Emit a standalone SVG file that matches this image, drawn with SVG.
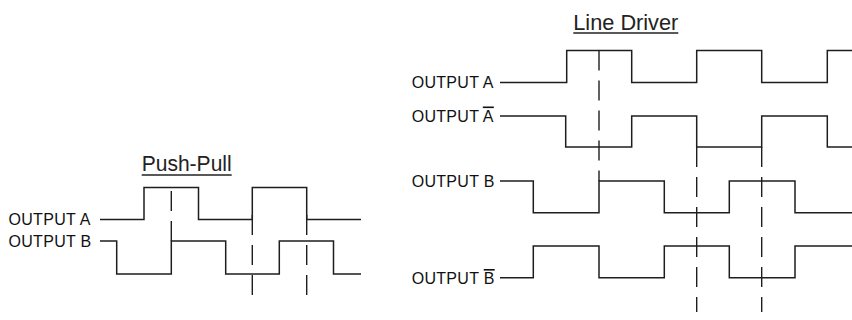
<svg xmlns="http://www.w3.org/2000/svg" width="852" height="320" viewBox="0 0 852 320">
<style>
.bg{fill:#ffffff}
.wave{fill:none;stroke:#1e1e1e;stroke-width:1.5;stroke-linejoin:miter;stroke-linecap:butt}
.dash{fill:none;stroke:#1e1e1e;stroke-width:1.4;stroke-dasharray:20 10}
.lbl{font-family:"Liberation Sans",Arial,sans-serif;font-size:16px;fill:#111;letter-spacing:0.3px}
.bar{text-decoration:overline}
.ttl{font-family:"Liberation Sans",Arial,sans-serif;font-size:22px;fill:#222}
.ul{stroke:#222;stroke-width:1.6}
</style>
<rect class="bg" x="0" y="0" width="852" height="320"/>

<g id="push-pull-title">
<text class="ttl" x="141.7" y="170.5" textLength="90" lengthAdjust="spacingAndGlyphs">Push-Pull</text>
<line class="ul" x1="141.7" y1="175" x2="231.7" y2="175"/>
</g>
<g id="pp-output-a">
<text class="lbl" x="8.5" y="225">OUTPUT A</text>
<path class="wave" d="M100,219.5 H144 V187.5 H198.5 V219.5 H252.3 V187.5 H306.7 V219.5 H361"/>
</g>
<g id="pp-output-b">
<text class="lbl" x="8.5" y="246.5">OUTPUT B</text>
<path class="wave" d="M100,241 H116.7 V274 H171.3 V241 H225.7 V274 H279.3 V241 H333.5 V274 H361"/>
</g>

<g id="line-driver-title">
<text class="ttl" x="573.3" y="29.5" textLength="105" lengthAdjust="spacingAndGlyphs">Line Driver</text>
<line class="ul" x1="573.3" y1="33" x2="678.3" y2="33"/>
</g>
<g id="ld-output-a">
<text class="lbl" x="411.7" y="88">OUTPUT A</text>
<path class="wave" d="M500,82.5 H566.7 V50.5 H631.7 V82.5 H696.7 V50.5 H761.7 V82.5 H827.3 V50.5 H852"/>
</g>
<g id="ld-output-a-bar">
<text class="lbl" x="411.7" y="121.5">OUTPUT <tspan class="bar">A</tspan></text>
<path class="wave" d="M500,116 H565.7 V147 H631.7 V116 H696.7 V147 H761.7 V116 H827.3 V147 H852"/>
</g>
<g id="ld-output-b">
<text class="lbl" x="411.7" y="186.5">OUTPUT B</text>
<path class="wave" d="M500,181 H533.3 V212.7 H599 V181 H664.3 V212.7 H729.3 V181 H795 V212.7 H852"/>
</g>
<g id="ld-output-b-bar">
<text class="lbl" x="411.7" y="284">OUTPUT <tspan class="bar">B</tspan></text>
<path class="wave" d="M500,277.7 H533.3 V246 H599 V277.7 H664.3 V246 H729.3 V277.7 H795 V246 H852"/>
</g>

<g id="connectors">
<line class="dash" x1="171.3" y1="191" x2="171.3" y2="241"/>
<line class="dash" x1="252.3" y1="215" x2="252.3" y2="295"/>
<line class="dash" x1="306.7" y1="215" x2="306.7" y2="295"/>
<line class="dash" x1="599" y1="50.5" x2="599" y2="181"/>
<line class="dash" x1="696.7" y1="147" x2="696.7" y2="312"/>
<line class="dash" x1="761.7" y1="147" x2="761.7" y2="312"/>
</g>
</svg>
